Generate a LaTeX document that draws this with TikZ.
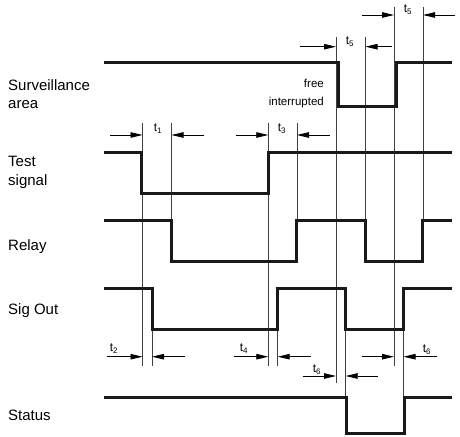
\documentclass[tikz,border=0pt]{standalone}
\usepackage{fontspec}
\setmainfont{Liberation Sans}
\usetikzlibrary{arrows.meta}
\tikzset{
  sig/.style={line width=3pt, line cap=butt, line join=miter, black!90},
  guide/.style={line width=0.8pt, black!75},
  dimarrow/.style={line width=0.8pt, -{Triangle[length=12pt,width=5.5pt]}},
  lbl/.style={font=\fontsize{15}{18.5}\selectfont, anchor=west, align=left, inner sep=0pt},
  small/.style={font=\fontsize{11.5}{14}\selectfont, inner sep=0pt},
  tl/.style={font=\fontsize{12}{14}\selectfont, inner sep=0pt}
}
\newcommand{\tsub}[1]{t\textsubscript{\fontsize{8}{9}\selectfont #1}}
\begin{document}
\begin{tikzpicture}[x=1pt,y=-1pt]
\useasboundingbox (0,0) rectangle (460,436);

% labels
\node[lbl] (surv) at (8,94) {Surveillance\\area};
\node[lbl] (test) at (8,172.5) {Test\\signal};
\node[lbl] (relay) at (8,247) {Relay};
\node[lbl] (sigout) at (8,311) {Sig Out};
\node[lbl] (status) at (8,415) {Status};
\node[small, anchor=east] (free) at (324,83) {free};
\node[small, anchor=east] (intr) at (324,103) {interrupted};

% guide lines
\draw[guide] (142.5,123) -- (142.5,366);
\draw[guide] (171.5,123) -- (171.5,220);
\draw[guide] (152,288) -- (152,366);
\draw[guide] (268.3,123) -- (268.3,366);
\draw[guide] (297,123) -- (297,220);
\draw[guide] (277.7,288) -- (277.7,366);
\draw[guide] (336,37) -- (336,383);
\draw[guide] (365.5,37) -- (365.5,220);
\draw[guide] (394,7) -- (394,366);
\draw[guide] (423,7) -- (423,220);
\draw[guide] (345.7,288) -- (345.7,397);
\draw[guide] (403.5,288) -- (403.5,397);

% signals
\draw[sig] (104,62.7) -- (338.3,62.7) -- (338.3,106) -- (396,106) -- (396,62.7) -- (452,62.7);
\draw[sig] (104,152.3) -- (141.7,152.3) -- (141.7,193.3) -- (268.3,193.3) -- (268.3,152.3) -- (452,152.3);
\draw[sig] (104,220) -- (171.5,220) -- (171.5,261.5) -- (296.7,261.5) -- (296.7,220) -- (365.7,220) -- (365.7,261.5) -- (422.7,261.5) -- (422.7,220) -- (452,220);
\draw[sig] (104,288.3) -- (152.3,288.3) -- (152.3,329.5) -- (277.7,329.5) -- (277.7,288.3) -- (345.7,288.3) -- (345.7,329.5) -- (403.3,329.5) -- (403.3,288.3) -- (452,288.3);
\draw[sig] (104,397) -- (346.5,397) -- (346.5,433.5) -- (404,433.5) -- (404,397) -- (452,397);

% dimension arrows
\draw[dimarrow] (110,135) -- (142.5,135);
\draw[dimarrow] (204,135) -- (171.5,135);
\node[tl] (t1) at (158,129) {\tsub{1}};

\draw[dimarrow] (236,135) -- (268.3,135);
\draw[dimarrow] (330,135) -- (297,135);
\node[tl] (t3) at (282,129) {\tsub{3}};

\draw[dimarrow] (300,46.7) -- (336,46.7);
\draw[dimarrow] (392,46.7) -- (365.5,46.7);
\node[tl] (t5a) at (350,42) {\tsub{5}};

\draw[dimarrow] (362,15) -- (394,15);
\draw[dimarrow] (455,15) -- (423,15);
\node[tl] (t5b) at (408,10) {\tsub{5}};

\draw[dimarrow] (107,356.7) -- (142.5,356.7);
\draw[dimarrow] (185,356.7) -- (152,356.7);
\node[tl] (t2) at (114,349) {\tsub{2}};

\draw[dimarrow] (234,356.7) -- (268.3,356.7);
\draw[dimarrow] (311,356.7) -- (277.7,356.7);
\node[tl] (t4) at (244,349) {\tsub{4}};

\draw[dimarrow] (303,376) -- (336,376);
\draw[dimarrow] (378,376) -- (345.7,376);
\node[tl] (t6a) at (317,370) {\tsub{6}};

\draw[dimarrow] (362,356.7) -- (394,356.7);
\draw[dimarrow] (437,356.7) -- (403.5,356.7);
\node[tl] (t6b) at (427,350) {\tsub{6}};
\end{tikzpicture}
\end{document}
